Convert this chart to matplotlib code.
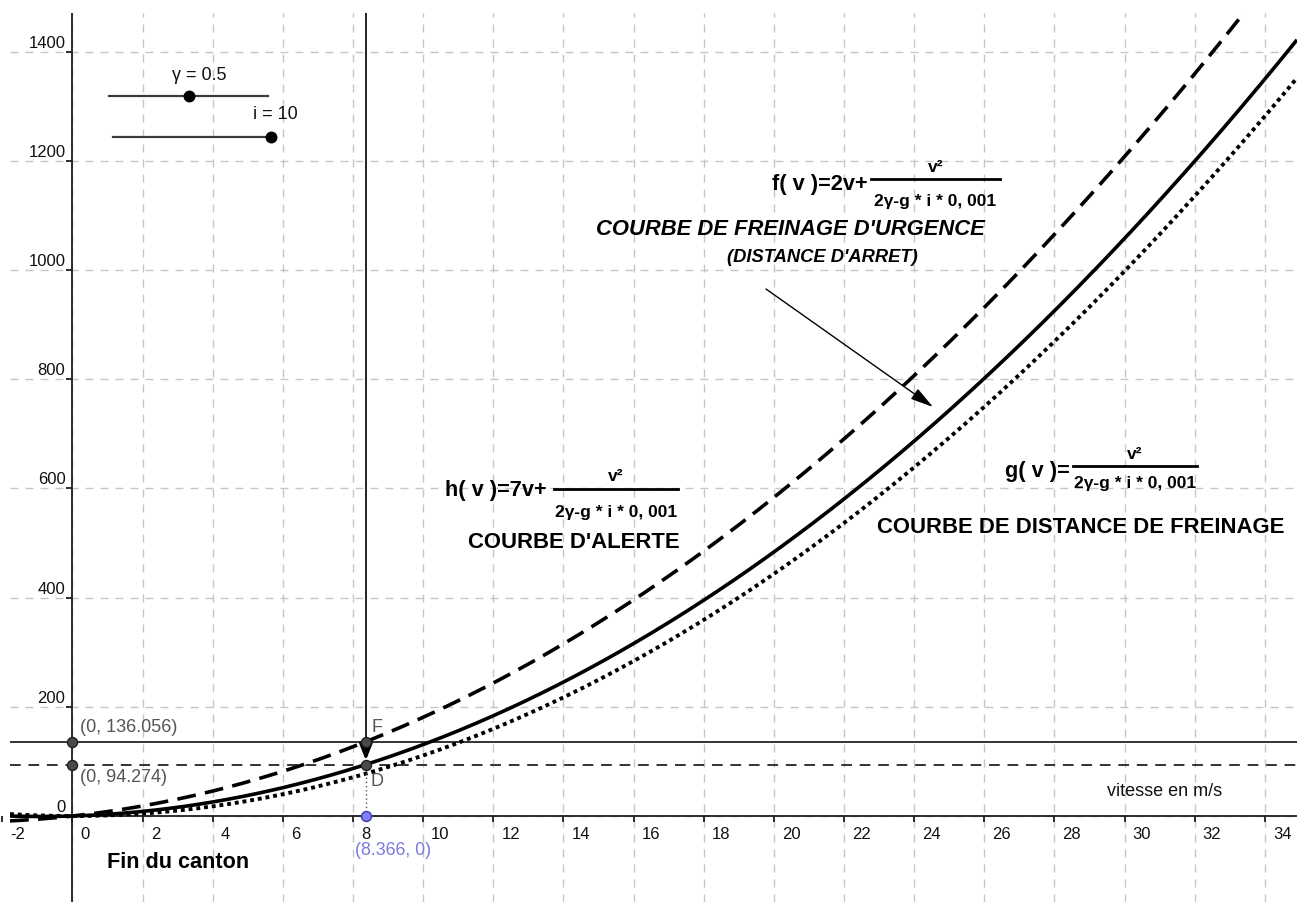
import numpy as np
import matplotlib
matplotlib.use("Agg")
import matplotlib.pyplot as plt
from matplotlib.lines import Line2D

# ------------------------------------------------------------------ data
gamma = 0.5                 # slider value
gamma_range = [0.0, 1.0]    # slider range
i_val = 10                  # slider value
i_range = [0, 10]           # slider range
g_acc = 9.81                # gravity used in the formulas

curve_names = ["h", "f", "g"]          # h: alerte, f: freinage d'urgence, g: distance de freinage
curve_linear_coef = [7, 2, 0]          # h(v)=7v+..., f(v)=2v+..., g(v)=0v+...

point_v = 8.366                        # abscissa of F, D and the blue point
point_F_y = 136.056
point_D_y = 94.274

x_ticks = list(range(-2, 35, 2))
y_ticks = list(range(0, 1401, 200))

xlim = (-1.782, 34.916)
ylim = (-157.5, 1470.7)

# ------------------------------------------------------------------ figure
W, H = 1301, 902
DPI = 100
fig = plt.figure(figsize=(W / DPI, H / DPI), dpi=DPI)
fig.patch.set_facecolor("white")
ax = fig.add_axes([10 / W, 0, 1287 / W, 889 / H])
ax.set_xlim(*xlim)
ax.set_ylim(*ylim)
ax.set_axis_off()

FONT = "Liberation Sans"


def pt(p):
    """pixels -> points"""
    return p * 72.0 / DPI


def ftext(x, y, s, **kw):
    """text placed at figure pixel coordinates (x from left, y from top)"""
    kw.setdefault("family", FONT)
    return fig.text(x / W, 1 - y / H, s, **kw)


def fline(x0, x1, y, **kw):
    fig.add_artist(Line2D([x0 / W, x1 / W], [1 - y / H, 1 - y / H],
                          transform=fig.transFigure, **kw))


# grid
grid_lw = 1.0
grid_ls = (0, (8 / (grid_lw * 1.389), 7 / (grid_lw * 1.389)))
for t in x_ticks:
    ax.axvline(t, color="#c6c6c6", lw=grid_lw, ls=grid_ls, zorder=0)
for t in y_ticks:
    ax.axhline(t, color="#c6c6c6", lw=grid_lw, ls=grid_ls, zorder=0)

# axes lines
ax.axhline(0, color="#1e1e1e", lw=1.3, zorder=2)
ax.axvline(0, color="#1e1e1e", lw=1.3, zorder=2)
ax.plot(x_ticks, [0] * len(x_ticks), ls="none", marker=3, ms=pt(6),
        mew=1.3, color="#1e1e1e", zorder=2, clip_on=False)
ax.plot([0] * len(y_ticks), y_ticks, ls="none", marker=0, ms=pt(6),
        mew=1.3, color="#1e1e1e", zorder=2)

# tick labels
for t in x_ticks:
    ax.annotate(f"{t}", (t, 0), xytext=(pt(8), pt(-11)), textcoords="offset points",
                ha="left", va="top", fontsize=12, family=FONT, color="#111",
                annotation_clip=False)
for t in y_ticks:
    ax.annotate(f"{t}", (0, t), xytext=(pt(-7), pt(4)), textcoords="offset points",
                ha="right", va="baseline", fontsize=12, family=FONT, color="#111")

# horizontal reference lines through F and D
ax.axhline(point_F_y, color="#333333", lw=1.4, zorder=3)
ax.axhline(point_D_y, color="#333333", lw=1.4, ls=(0, (5.5, 4.0)), zorder=3)

# curves
v = np.linspace(xlim[0], xlim[1], 800)
denom = 2 * gamma - g_acc * i_val * 0.001
styles = {
    "h": dict(lw=2.6, ls=(0, (5.2, 2.6))),
    "f": dict(lw=2.6, ls="-"),
    "g": dict(lw=2.8, ls=(0, (1.0, 1.0))),
}
for name, a in zip(curve_names, curve_linear_coef):
    ax.plot(v, a * v + v ** 2 / denom, color="black", zorder=4,
            solid_capstyle="butt", dash_capstyle="butt", **styles[name])

# vertical line from top to F, vector F -> D, dotted D -> axis
ax.plot([point_v, point_v], [point_F_y, ylim[1]], color="#111", lw=1.3, zorder=5)
ax.annotate("", xy=(point_v, point_D_y), xytext=(point_v, point_F_y),
            arrowprops=dict(arrowstyle="-|>,head_length=0.75,head_width=0.3",
                            mutation_scale=13, lw=2.2, color="black",
                            shrinkA=0, shrinkB=3), zorder=6)
ax.plot([point_v, point_v], [0, point_D_y], color="#555", lw=1.0,
        ls=(0, (1, 2)), zorder=5)

# points
pt_kw = dict(ls="none", marker="o", ms=pt(10), mfc="#4a4a4a", mec="#1e1e1e",
             mew=1.0, zorder=8, clip_on=False)
ax.plot([0, 0], [point_F_y, point_D_y], **pt_kw)
ax.plot([point_v, point_v], [point_F_y, point_D_y], **pt_kw)
ax.plot([point_v], [0], ls="none", marker="o", ms=pt(10), mfc="#8080ff",
        mec="#3c3ca8", mew=1.0, zorder=8)

lab_kw = dict(textcoords="offset points", fontsize=13, family=FONT,
              color="#555555", ha="left", va="baseline")
ax.annotate(f"(0, {point_F_y:.3f})", (0, point_F_y), xytext=(pt(7.5), pt(9.5)), **lab_kw)
ax.annotate(f"(0, {point_D_y:.3f})", (0, point_D_y), xytext=(pt(7.5), pt(-17.5)), **lab_kw)
ax.annotate("F", (point_v, point_F_y), xytext=(pt(6), pt(9.5)), **lab_kw)
ax.annotate("D", (point_v, point_D_y), xytext=(pt(5), pt(-21.5)), **lab_kw)
lab_blue = dict(lab_kw, color="#7a7ae0", fontsize=12.8)
ax.annotate(f"({point_v:.3f}, 0)", (point_v, 0), xytext=(pt(-10.5), pt(-39)), **lab_blue)

# sliders (screen elements)
def slider(x0, x1, y, value, vrange, label, lx, ly, ha):
    fline(x0, x1, y, color="#3a3a3a", lw=1.6)
    xd = x0 + (value - vrange[0]) / (vrange[1] - vrange[0]) * (x1 - x0)
    fig.add_artist(Line2D([xd / W], [1 - y / H], transform=fig.transFigure,
                          ls="none", marker="o", ms=pt(10.5), color="black"))
    ftext(lx, ly, label, fontsize=13, ha=ha, va="baseline", color="#111")

slider(109, 268, 96, gamma, gamma_range, f"γ = {gamma}", 199, 80, "center")
slider(113, 271, 137, i_val, i_range, f"i = {i_val}", 253, 119, "left")

# formulas
def fraction(x0, x1, ybar, num_base, den_base):
    fline(x0, x1, ybar, color="black", lw=2.0)
    xc = (x0 + x1) / 2
    ftext(xc, num_base, "v²", fontsize=12.5, weight="bold", ha="center", va="baseline")
    ftext(xc, den_base, "2γ-g * i * 0, 001", fontsize=12.5, weight="bold",
          ha="center", va="baseline")

ftext(445, 496, "h( v )=7v+", fontsize=15.7, weight="bold", ha="left", va="baseline")
fraction(554, 678, 489, 481, 517)
ftext(468, 548, "COURBE D'ALERTE", fontsize=15.9, weight="bold", ha="left", va="baseline")

ftext(772, 190, "f( v )=2v+", fontsize=15.7, weight="bold", ha="left", va="baseline")
fraction(871, 1000, 179, 172, 206)
ftext(596, 235, "COURBE DE FREINAGE D'URGENCE", fontsize=15.8, weight="bold",
      style="italic", ha="left", va="baseline")
ftext(727, 262, "(DISTANCE D'ARRET)", fontsize=13.2, weight="bold", style="italic",
      ha="left", va="baseline")

ftext(1005, 477, "g( v )=", fontsize=15.7, weight="bold", ha="left", va="baseline")
fraction(1073, 1197, 466, 459, 488)
ftext(877, 533, "COURBE DE DISTANCE DE FREINAGE", fontsize=15.9, weight="bold",
      ha="left", va="baseline")

# arrow pointing to the emergency braking curve
ax.annotate("", xy=(933, H - 407), xytext=(766, H - 289),
            xycoords="figure pixels", textcoords="figure pixels",
            arrowprops=dict(arrowstyle="-|>,head_length=1.0,head_width=0.27",
                            mutation_scale=14, lw=1.0, color="black",
                            shrinkA=0, shrinkB=0))

ftext(1107, 796, "vitesse en m/s", fontsize=13, ha="left", va="baseline", color="#111")
ftext(107, 868, "Fin du canton", fontsize=15.6, weight="bold", ha="left", va="baseline")

fig.savefig("out.png", dpi=DPI, facecolor="white")
